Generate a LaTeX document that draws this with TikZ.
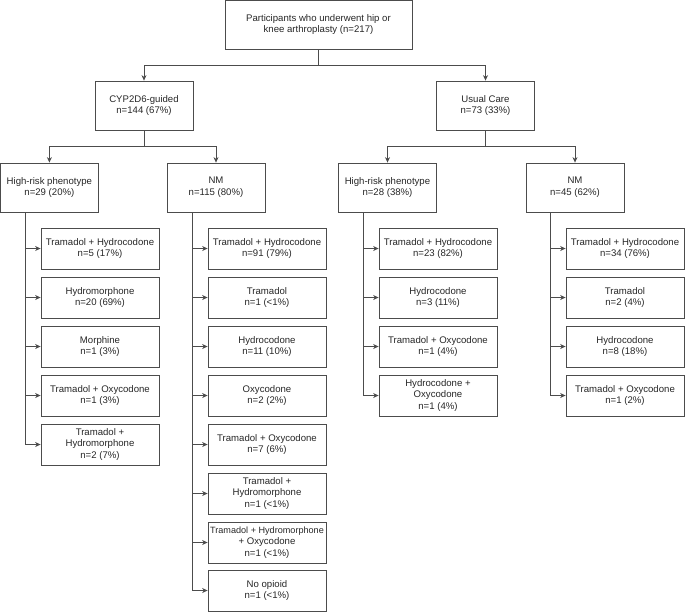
\documentclass[tikz,border=0pt]{standalone}
\usepackage{fontspec}
\setmainfont{Liberation Sans}
\usetikzlibrary{arrows.meta}
\begin{document}
\begin{tikzpicture}[x=1pt,y=-1pt,
  box/.style={draw=black!70,line width=0.8pt,rectangle,inner sep=0pt,align=center,text=black!85,
    font=\fontsize{9.6}{11.7}\selectfont},
  topbox/.style={box,minimum width=187pt,minimum height=49pt},
  midbox/.style={box,minimum width=98pt,minimum height=49pt},
  leaf/.style={box,minimum width=118pt,minimum height=41pt},
  ln/.style={draw=black!70,line width=0.8pt},
  arr/.style={ln,-{Stealth[length=5.5pt,width=5pt]}}]
\useasboundingbox (0,0) rectangle (685,611);
% top
\node[topbox] (top) at (318.5,24.5) {Participants who underwent hip or\\knee arthroplasty (n=217)};
\node[midbox] (cyp) at (144,105.5) {CYP2D6-guided\\n=144 (67\%)};
\node[midbox] (uc) at (485.5,105.5) {Usual Care\\n=73 (33\%)};
\coordinate (h0) at (0,65);
\draw[arr] (top.south) -- (top.south |- h0) -| (cyp.north);
\draw[arr] (top.south |- h0) -| (uc.north);
% level 2
\node[midbox] (hr1) at (49.4,187.5) {High-risk phenotype\\n=29 (20\%)};
\node[midbox] (nm1) at (216,187.5) {NM\\n=115 (80\%)};
\node[midbox] (hr2) at (387.5,187.5) {High-risk phenotype\\n=28 (38\%)};
\node[midbox] (nm2) at (575,187.5) {NM\\n=45 (62\%)};
\coordinate (h1) at (0,146);
\draw[arr] (cyp.south) -- (cyp.south |- h1) -| (hr1.north);
\draw[arr] (cyp.south |- h1) -| (nm1.north);
\draw[arr] (uc.south) -- (uc.south |- h1) -| (hr2.north);
\draw[arr] (uc.south |- h1) -| (nm2.north);
% trunks
\coordinate (t1) at (25,0);
\coordinate (t2) at (192,0);
\coordinate (t3) at (363,0);
\coordinate (t4) at (550,0);
% column 1
\node[leaf] (a1) at (100,248.5) {Tramadol + Hydrocodone\\n=5 (17\%)};
\node[leaf] (a2) at (100,297.5) {Hydromorphone\\n=20 (69\%)};
\node[leaf] (a3) at (100,346.5) {Morphine\\n=1 (3\%)};
\node[leaf] (a4) at (100,395.5) {Tramadol + Oxycodone\\n=1 (3\%)};
\node[leaf] (a5) at (100,444.5) {Tramadol +\\Hydromorphone\\n=2 (7\%)};
% column 2
\node[leaf] (b1) at (267,248.5) {Tramadol + Hydrocodone\\n=91 (79\%)};
\node[leaf] (b2) at (267,297.5) {Tramadol\\n=1 (<1\%)};
\node[leaf] (b3) at (267,346.5) {Hydrocodone\\n=11 (10\%)};
\node[leaf] (b4) at (267,395.5) {Oxycodone\\n=2 (2\%)};
\node[leaf] (b5) at (267,444.5) {Tramadol + Oxycodone\\n=7 (6\%)};
\node[leaf] (b6) at (267,493.5) {Tramadol +\\Hydromorphone\\n=1 (<1\%)};
\node[leaf] (b7) at (267,542.5) {{\fontsize{9.1}{11.7}\selectfont Tramadol + Hydromorphone}\\+ Oxycodone\\n=1 (<1\%)};
\node[leaf] (b8) at (267,590.5) {No opioid\\n=1 (<1\%)};
% column 3
\node[leaf] (c1) at (438,248.5) {Tramadol + Hydrocodone\\n=23 (82\%)};
\node[leaf] (c2) at (438,297.5) {Hydrocodone\\n=3 (11\%)};
\node[leaf] (c3) at (438,346.5) {Tramadol + Oxycodone\\n=1 (4\%)};
\node[leaf] (c4) at (438,395.5) {Hydrocodone +\\Oxycodone\\n=1 (4\%)};
% column 4
\node[leaf] (d1) at (625,248.5) {Tramadol + Hydrocodone\\n=34 (76\%)};
\node[leaf] (d2) at (625,297.5) {Tramadol\\n=2 (4\%)};
\node[leaf] (d3) at (625,346.5) {Hydrocodone\\n=8 (18\%)};
\node[leaf] (d4) at (625,395.5) {Tramadol + Oxycodone\\n=1 (2\%)};
% trunk lines and arrows
\draw[ln] (t1 |- hr1.south) -- (t1 |- a5.west);
\foreach \n in {a1,a2,a3,a4,a5} \draw[arr] (t1 |- \n.west) -- (\n.west);
\draw[ln] (t2 |- nm1.south) -- (t2 |- b8.west);
\foreach \n in {b1,b2,b3,b4,b5,b6,b7,b8} \draw[arr] (t2 |- \n.west) -- (\n.west);
\draw[ln] (t3 |- hr2.south) -- (t3 |- c4.west);
\foreach \n in {c1,c2,c3,c4} \draw[arr] (t3 |- \n.west) -- (\n.west);
\draw[ln] (t4 |- nm2.south) -- (t4 |- d4.west);
\foreach \n in {d1,d2,d3,d4} \draw[arr] (t4 |- \n.west) -- (\n.west);
\end{tikzpicture}
\end{document}
